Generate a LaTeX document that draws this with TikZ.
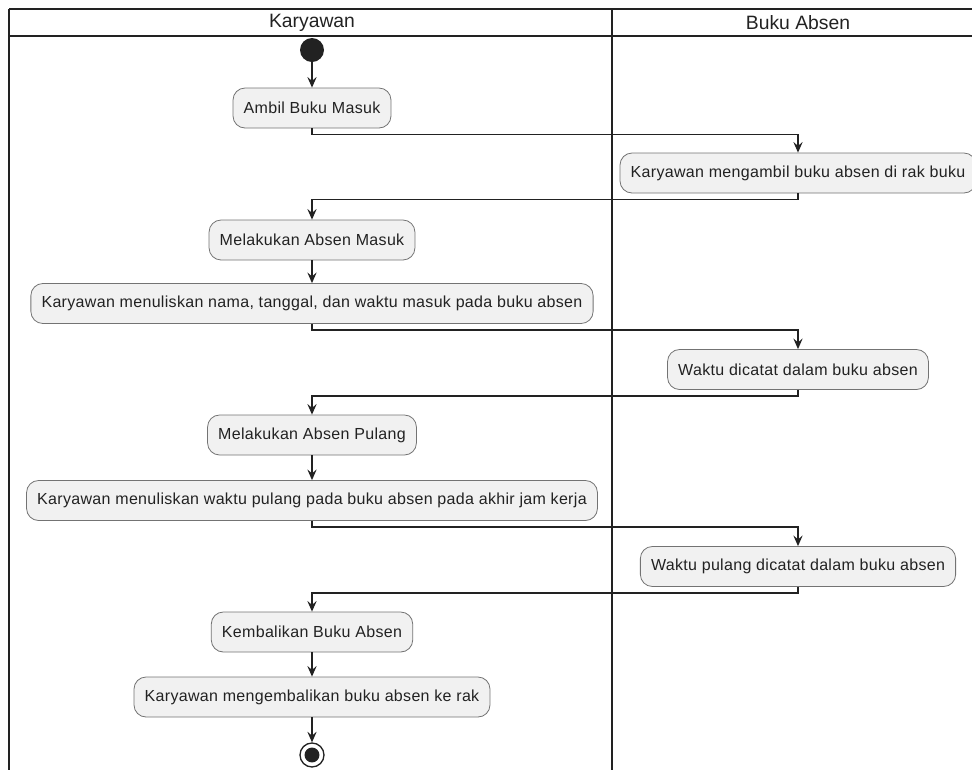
\documentclass[tikz,border=0pt]{standalone}
\usepackage{fontspec}
\setmainfont{Liberation Sans}
\usetikzlibrary{arrows.meta}
\definecolor{actfill}{HTML}{F1F1F1}
\definecolor{ink}{HTML}{222222}
\begin{document}
\begin{tikzpicture}[x=0.75pt,y=-0.75pt,
  act/.style={draw=black!55, fill=actfill, rounded corners=9pt, minimum height=30pt,
    inner xsep=8pt, font=\fontsize{12}{14}\selectfont\addfontfeature{LetterSpace=2}, text=ink, line width=0.6pt},
  lane/.style={line width=1.4pt, draw=ink},
  hdr/.style={font=\fontsize{14.5}{16}\selectfont, text=ink},
  flow/.style={draw=ink, line width=0.9pt, -{Stealth[length=8pt,width=7pt,inset=3pt]}},
]
\useasboundingbox (0,0) rectangle (972,769);
% swimlanes
\draw[lane] (9,9) -- (990,9);
\draw[lane] (9,36) -- (990,36);
\draw[lane] (9,9) -- (9,780);
\draw[lane] (612,9) -- (612,780);
\node[hdr] (hk) at (312,23) {Karyawan};
\node[hdr] (hb) at (798,23) {Buku Absen};
% nodes
\node[circle, fill=ink, minimum size=18pt, inner sep=0pt] (start) at (312,50) {};
\node[act] (a1) at (312,108) {Ambil Buku Masuk};
\node[act] (b1) at (798,173) {Karyawan mengambil buku absen di rak buku};
\node[act] (a2) at (312,240) {Melakukan Absen Masuk};
\node[act] (a3) at (312,303.5) {Karyawan menuliskan nama, tanggal, dan waktu masuk pada buku absen};
\node[act] (b2) at (798,369.5) {Waktu dicatat dalam buku absen};
\node[act] (a4) at (312,435) {Melakukan Absen Pulang};
\node[act] (a5) at (312,500.5) {Karyawan menuliskan waktu pulang pada buku absen pada akhir jam kerja};
\node[act] (b3) at (798,566.5) {Waktu pulang dicatat dalam buku absen};
\node[act] (a6) at (312,632) {Kembalikan Buku Absen};
\node[act] (a7) at (312,697) {Karyawan mengembalikan buku absen ke rak};
\node[circle, draw=ink, line width=1pt, fill=white, minimum size=18pt, inner sep=0pt] (end) at (312,755) {};
\fill[ink] (end.center) circle (5.6pt);
% flows
\draw[flow] (start) -- (a1);
\draw[flow] (a1.south) -- ++(0,6) -| (b1.north);
\draw[flow] (b1.south) -- ++(0,6) -| (a2.north);
\draw[flow] (a2) -- (a3);
\draw[flow] (a3.south) -- ++(0,6) -| (b2.north);
\draw[flow] (b2.south) -- ++(0,6) -| (a4.north);
\draw[flow] (a4) -- (a5);
\draw[flow] (a5.south) -- ++(0,6) -| (b3.north);
\draw[flow] (b3.south) -- ++(0,6) -| (a6.north);
\draw[flow] (a6) -- (a7);
\draw[flow] (a7) -- (end);
\end{tikzpicture}
\end{document}
